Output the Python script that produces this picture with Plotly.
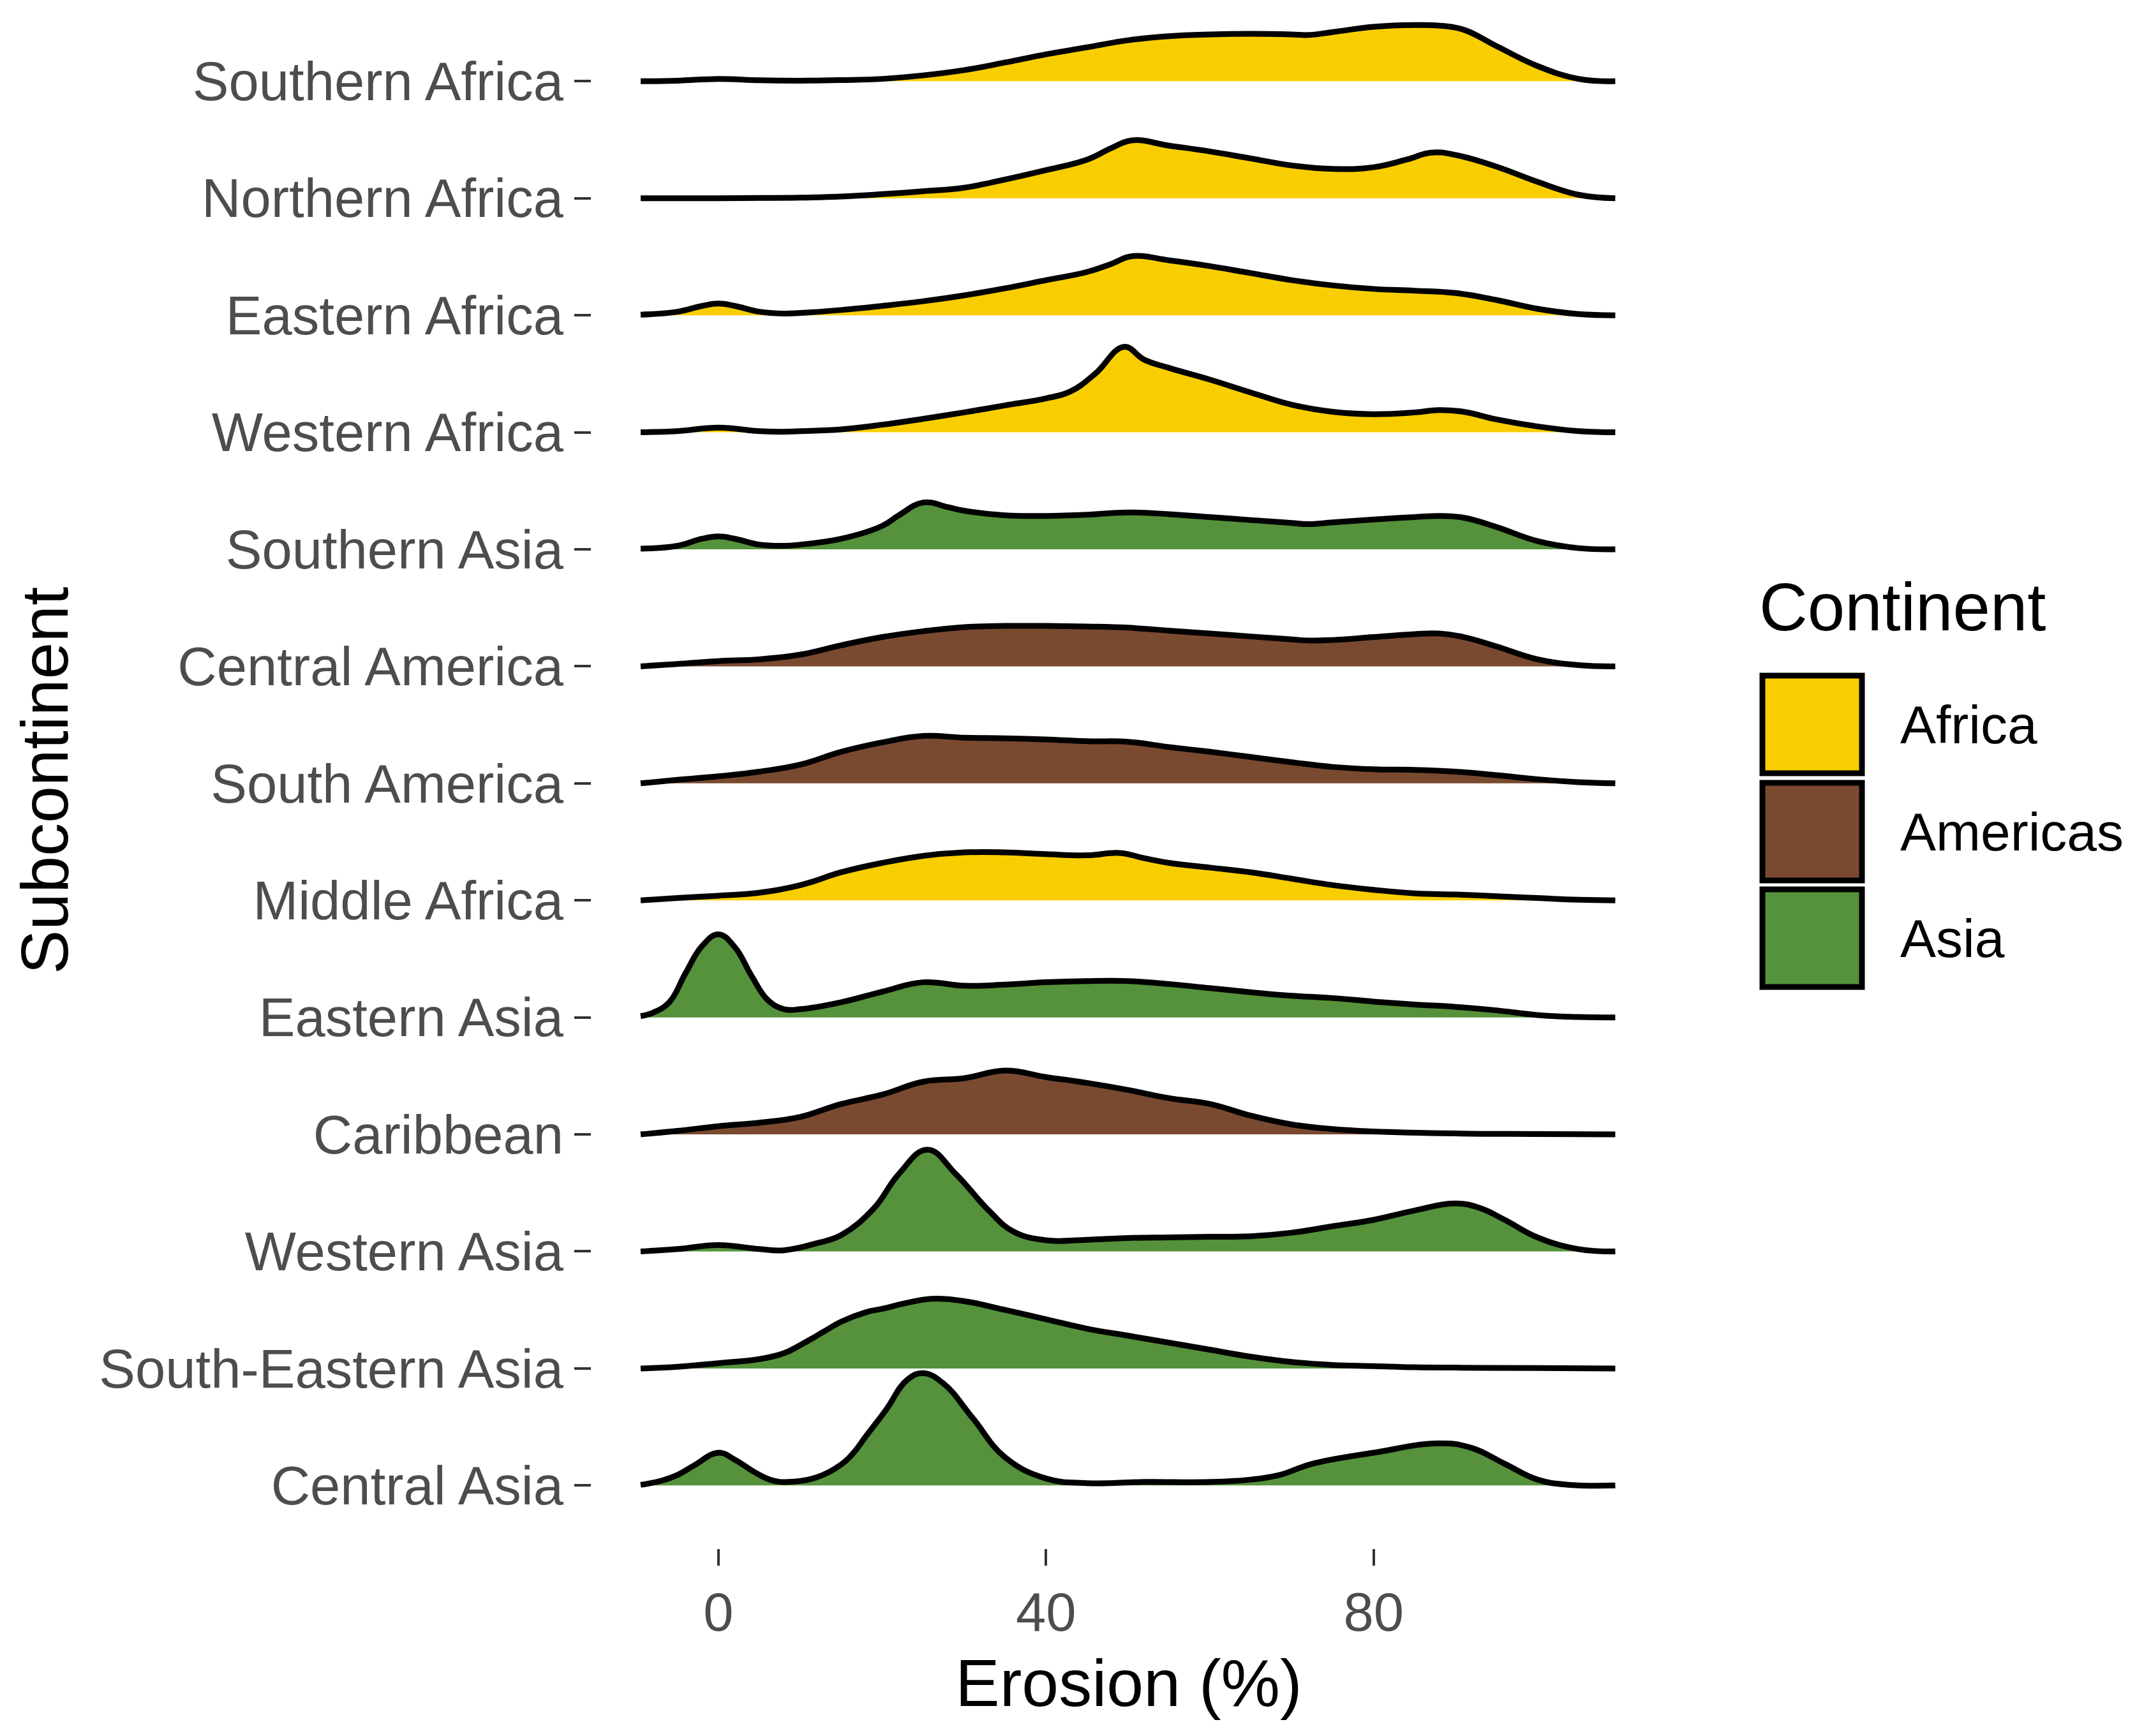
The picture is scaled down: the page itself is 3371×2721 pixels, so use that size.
import plotly.graph_objs as go

# subcontinents, top row first
subcontinents = ["Southern Africa", "Northern Africa", "Eastern Africa", "Western Africa",
                 "Southern Asia", "Central America", "South America", "Middle Africa",
                 "Eastern Asia", "Caribbean", "Western Asia", "South-Eastern Asia", "Central Asia"]
continent_of = ["Africa", "Africa", "Africa", "Africa", "Asia", "Americas", "Americas",
                "Africa", "Asia", "Americas", "Asia", "Asia", "Asia"]

continents = ["Africa", "Americas", "Asia"]
continent_colors = ["#F9CE00", "#7A4A30", "#55923B"]

x_ticks = [0, 40, 80]

# density (scaled to row spacing)
southern_africa_x = [-9.5, -5, 0, 5, 10, 15, 20, 25, 30, 35, 40, 45, 50, 55, 60, 65, 70, 72, 75, 80, 85, 88, 91, 95, 100, 105, 109.5]
southern_africa_d = [0, 0.005, 0.02, 0.008, 0.005, 0.01, 0.02, 0.05, 0.095, 0.16, 0.23, 0.29, 0.35, 0.385, 0.40, 0.405, 0.40, 0.395, 0.42, 0.465, 0.48, 0.475, 0.44, 0.30, 0.13, 0.02, 0]

northern_africa_x = [-9.5, 0, 5, 10, 15, 20, 25, 30, 35, 40, 45, 48, 50.5, 55, 60, 65, 70, 75, 80, 84, 87, 90, 95, 100, 105, 109.5]
northern_africa_d = [0, 0, 0.002, 0.005, 0.015, 0.035, 0.06, 0.09, 0.16, 0.24, 0.33, 0.43, 0.495, 0.45, 0.40, 0.34, 0.28, 0.25, 0.265, 0.33, 0.39, 0.37, 0.27, 0.14, 0.03, 0]

eastern_africa_x = [-9.5, -5, -2, 0, 2, 5, 8, 10, 15, 20, 25, 30, 35, 40, 45, 48, 50.5, 55, 60, 65, 70, 75, 80, 85, 90, 95, 100, 105, 109.5]
eastern_africa_d = [0.005, 0.03, 0.08, 0.10, 0.08, 0.03, 0.015, 0.02, 0.045, 0.08, 0.12, 0.17, 0.23, 0.30, 0.37, 0.44, 0.505, 0.47, 0.42, 0.36, 0.30, 0.255, 0.225, 0.21, 0.19, 0.13, 0.055, 0.01, 0]

western_africa_x = [-9.5, -5, 0, 5, 8, 10, 15, 20, 25, 30, 35, 40, 43, 46, 49.5, 52, 55, 60, 65, 70, 75, 80, 85, 88, 91, 95, 100, 105, 109.5]
western_africa_d = [0, 0.01, 0.04, 0.01, 0.005, 0.01, 0.025, 0.065, 0.115, 0.17, 0.23, 0.29, 0.35, 0.50, 0.73, 0.62, 0.55, 0.45, 0.34, 0.235, 0.175, 0.155, 0.17, 0.19, 0.175, 0.11, 0.05, 0.01, 0]

southern_asia_x = [-9.5, -5, -2, 0, 2, 5, 8, 10, 15, 20, 22, 25, 28, 30, 35, 40, 45, 50, 55, 60, 65, 70, 72, 75, 80, 85, 88, 91, 95, 100, 105, 109.5]
southern_asia_d = [0.005, 0.03, 0.09, 0.11, 0.09, 0.04, 0.03, 0.04, 0.09, 0.20, 0.29, 0.40, 0.36, 0.33, 0.29, 0.285, 0.295, 0.315, 0.30, 0.275, 0.25, 0.225, 0.215, 0.23, 0.255, 0.275, 0.285, 0.27, 0.19, 0.07, 0.01, 0]

central_america_x = [-9.5, -5, 0, 5, 10, 15, 20, 25, 30, 35, 40, 45, 50, 55, 60, 65, 70, 72, 75, 80, 85, 88, 91, 95, 100, 105, 109.5]
central_america_d = [0, 0.02, 0.045, 0.06, 0.10, 0.18, 0.25, 0.30, 0.335, 0.345, 0.345, 0.34, 0.33, 0.305, 0.28, 0.255, 0.23, 0.22, 0.225, 0.25, 0.275, 0.28, 0.25, 0.17, 0.06, 0.01, 0]

south_america_x = [-9.5, -5, 0, 5, 10, 15, 20, 25, 30, 35, 40, 45, 50, 55, 60, 65, 70, 75, 80, 85, 90, 95, 100, 105, 109.5]
south_america_d = [0, 0.03, 0.06, 0.10, 0.16, 0.27, 0.35, 0.405, 0.39, 0.385, 0.375, 0.36, 0.355, 0.31, 0.27, 0.225, 0.18, 0.14, 0.12, 0.115, 0.10, 0.07, 0.035, 0.01, 0]

middle_africa_x = [-9.5, -5, 0, 5, 10, 15, 20, 25, 30, 35, 40, 45, 49, 52, 55, 60, 65, 70, 75, 80, 85, 90, 95, 100, 105, 109.5]
middle_africa_d = [0, 0.02, 0.04, 0.065, 0.13, 0.24, 0.32, 0.38, 0.41, 0.41, 0.395, 0.385, 0.405, 0.36, 0.32, 0.28, 0.24, 0.185, 0.13, 0.09, 0.06, 0.05, 0.035, 0.02, 0.005, 0]

eastern_asia_x = [-9.5, -8, -6, -4, -2, 0, 2, 4, 6, 8, 10, 15, 20, 25, 30, 35, 40, 45, 50, 55, 60, 65, 70, 75, 80, 85, 90, 95, 100, 105, 109.5]
eastern_asia_d = [0.01, 0.04, 0.13, 0.38, 0.61, 0.71, 0.60, 0.36, 0.15, 0.07, 0.07, 0.13, 0.22, 0.30, 0.27, 0.28, 0.30, 0.31, 0.31, 0.285, 0.25, 0.215, 0.185, 0.165, 0.135, 0.11, 0.09, 0.06, 0.02, 0.003, 0]

caribbean_x = [-9.5, -5, 0, 5, 10, 15, 20, 25, 30, 35, 40, 45, 50, 55, 60, 65, 70, 75, 80, 90, 100, 109.5]
caribbean_d = [0, 0.03, 0.07, 0.10, 0.15, 0.26, 0.34, 0.45, 0.48, 0.545, 0.49, 0.44, 0.38, 0.31, 0.26, 0.16, 0.085, 0.045, 0.025, 0.008, 0.003, 0]

western_asia_x = [-9.5, -5, 0, 5, 8, 12, 15, 19, 22, 25.5, 29, 33, 36, 40, 45, 50, 55, 60, 65, 70, 75, 80, 85, 90, 93, 96, 100, 105, 109.5]
western_asia_d = [0, 0.02, 0.055, 0.02, 0.01, 0.07, 0.14, 0.37, 0.66, 0.87, 0.66, 0.35, 0.17, 0.095, 0.10, 0.115, 0.12, 0.125, 0.13, 0.16, 0.215, 0.27, 0.35, 0.41, 0.37, 0.27, 0.12, 0.02, 0]

south_eastern_asia_x = [-9.5, -5, 0, 5, 8, 10, 13, 15, 18, 20, 23, 26, 30, 35, 40, 45, 50, 55, 60, 65, 70, 75, 80, 85, 90, 100, 109.5]
south_eastern_asia_d = [0, 0.015, 0.045, 0.08, 0.13, 0.20, 0.32, 0.40, 0.48, 0.51, 0.56, 0.595, 0.575, 0.50, 0.42, 0.34, 0.28, 0.22, 0.16, 0.10, 0.055, 0.03, 0.02, 0.01, 0.007, 0.003, 0]

central_asia_x = [-9.5, -7, -5, -3, 0, 2, 4.5, 6.5, 8.5, 12, 15, 16.5, 18, 20.5, 23, 25, 27.5, 31, 35, 40, 45, 52, 60, 65, 68.5, 72.5, 80, 88, 92, 96, 100, 104, 109.5]
central_asia_d = [0.005, 0.04, 0.09, 0.17, 0.28, 0.22, 0.11, 0.045, 0.03, 0.07, 0.18, 0.28, 0.42, 0.65, 0.90, 0.96, 0.87, 0.58, 0.24, 0.06, 0.02, 0.03, 0.03, 0.05, 0.09, 0.185, 0.28, 0.36, 0.32, 0.185, 0.05, 0.005, 0]

ridge_x = [southern_africa_x, northern_africa_x, eastern_africa_x, western_africa_x,
           southern_asia_x, central_america_x, south_america_x, middle_africa_x,
           eastern_asia_x, caribbean_x, western_asia_x, south_eastern_asia_x, central_asia_x]
ridge_d = [southern_africa_d, northern_africa_d, eastern_africa_d, western_africa_d,
           southern_asia_d, central_america_d, south_america_d, middle_africa_d,
           eastern_asia_d, caribbean_d, western_asia_d, south_eastern_asia_d, central_asia_d]

FONT = "Liberation Sans"
W, H = 3371, 2721
M_L, M_R, M_T, M_B = 919, 768, 12, 302

n = len(subcontinents)
traces = []
# draw from the top row down so lower ridges sit in front
for i, name in enumerate(subcontinents):
    base = n - i
    xs = ridge_x[i]
    color = continent_colors[continents.index(continent_of[i])]
    traces.append(go.Scatter(x=xs, y=[base] * len(xs), mode='lines',
                             line=dict(width=0, color='rgba(0,0,0,0)'),
                             hoverinfo='skip', showlegend=False))
    traces.append(go.Scatter(x=xs, y=[base + d for d in ridge_d[i]], mode='lines',
                             line=dict(color='black', width=9, shape='spline', smoothing=1.2),
                             fill='tonexty', fillcolor=color, name=name, showlegend=False))

fig = go.Figure(data=traces)

# pixel -> paper helpers for the hand-made legend
def px_x(px):
    return (px - M_L) / (W - M_L - M_R)

def px_y(py):
    return (H - M_B - py) / (H - M_T - M_B)

box_tops = [1047, 1215, 1382]
box_h = 161
shapes = []
annotations = []
for k, cont in enumerate(continents):
    y0 = box_tops[k]
    shapes.append(dict(type='rect', xref='paper', yref='paper',
                       x0=px_x(2754), x1=px_x(2910), y0=px_y(y0 + 4), y1=px_y(y0 + box_h - 4),
                       fillcolor=continent_colors[k], line=dict(color='black', width=9)))
    annotations.append(dict(text=cont, xref='paper', yref='paper', x=px_x(2968),
                            y=px_y(y0 + box_h / 2), xanchor='left', yanchor='middle',
                            showarrow=False, font=dict(family=FONT, size=84, color='black')))
annotations.append(dict(text="Continent", xref='paper', yref='paper', x=px_x(2747),
                        y=px_y(943), xanchor='left', yanchor='middle', showarrow=False,
                        font=dict(family=FONT, size=105, color='black')))

fig.update_layout(
    width=W, height=H, autosize=False,
    margin=dict(l=M_L, r=M_R, t=M_T, b=M_B),
    plot_bgcolor='white', paper_bgcolor='white',
    showlegend=False,
    shapes=shapes, annotations=annotations,
    xaxis=dict(range=[-15.5, 115.7], tickvals=x_ticks, ticktext=[str(t) for t in x_ticks],
               ticks='outside', ticklen=26, tickwidth=4, tickcolor='#333333',
               tickfont=dict(family=FONT, size=85, color='#4D4D4D'),
               showgrid=False, zeroline=False, showline=False,
               title=dict(text="Erosion (%)", font=dict(family=FONT, size=104, color='black'),
                          standoff=28)),
    yaxis=dict(range=[0.462, 13.585], tickvals=list(range(n, 0, -1)), ticktext=subcontinents,
               ticks='outside', ticklen=26, tickwidth=4, tickcolor='#333333',
               tickfont=dict(family=FONT, size=85, color='#4D4D4D'),
               showgrid=False, zeroline=False, showline=False,
               title=dict(text="Subcontinent", font=dict(family=FONT, size=104, color='black'),
                          standoff=13)),
)

fig.write_html("out.html")
